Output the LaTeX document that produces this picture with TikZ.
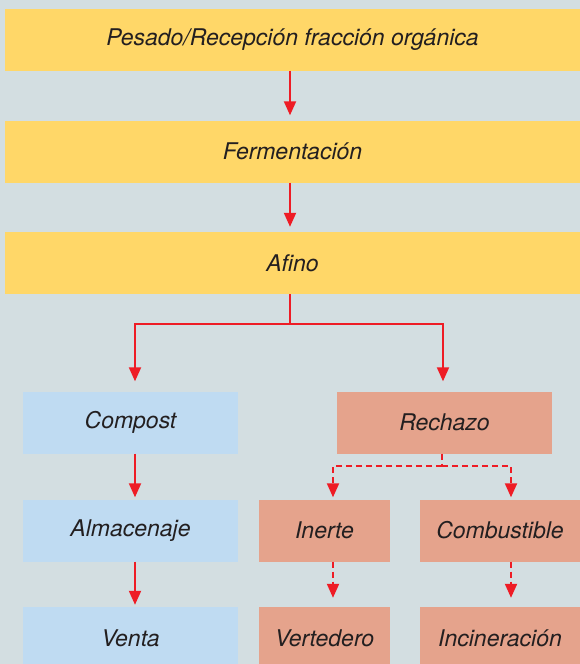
\documentclass[tikz,border=0pt]{standalone}
\usepackage{fontspec}
\setmainfont{TeX Gyre Heros}
\usetikzlibrary{arrows.meta}
\definecolor{fondo}{HTML}{D3DEE1}
\definecolor{amarillo}{HTML}{FFD768}
\definecolor{azul}{HTML}{BFDBF2}
\definecolor{salmon}{HTML}{E5A38C}
\definecolor{rojo}{HTML}{EE1C25}
\definecolor{texto}{HTML}{231F20}
\begin{document}
\begin{tikzpicture}[x=1pt,y=-1pt,
        caja/.style={inner sep=0pt,minimum height=62pt,text=texto,
            font=\fontsize{23}{26}\selectfont\itshape},
        etapa/.style={caja,fill=amarillo,minimum width=575pt},
        producto/.style={caja,fill=azul,minimum width=215pt},
        resto/.style={caja,fill=salmon},
        flecha/.style={rojo,line width=2pt,-{Triangle[length=14pt,width=12pt]}},
        flechad/.style={flecha,dash pattern=on 6pt off 4pt}]
        \fill[fondo] (0,0) rectangle (580,664);
        \clip (0,0) rectangle (580,664);

        \node[etapa] (pesado) at (292.5,39.5){Pesado/Recepción fracción orgánica};
        \node[etapa] (ferm) at (292.5,151.5){Fermentación};
        \node[etapa] (afino) at (292.5,263){Afino};

        \node[producto] (compost) at (130.5,422.5){Compost};
        \node[producto] (almac) at (130.5,530.5){Almacenaje};
        \node[producto] (venta) at (130.5,638){Venta};

        \node[resto,minimum width=215pt] (rechazo) at (444.5,422.5){Rechazo};
        \node[resto,minimum width=131pt] (inerte) at (324.5,530.5){Inerte};
        \node[resto,minimum width=160pt] (comb) at (500,530.5){Combustible};
        \node[resto,minimum width=131pt] (vert) at (324.5,638){Vertedero};
        \node[resto,minimum width=160pt] (incin) at (500,638){Incineración};

        \coordinate (rama) at (290,324);
        \coordinate (ramad) at (442,466);
        \coordinate (xm) at (290,0);
        \coordinate (xp) at (135,0);
        \coordinate (xr) at (443,0);
        \coordinate (xi) at (333,0);
        \coordinate (xc) at (511,0);

        \draw[flecha,shorten >=5pt] (pesado.south -| xm) -- (ferm.north -| xm);
        \draw[flecha,shorten >=5pt] (ferm.south -| xm) -- (afino.north -| xm);
        \draw[rojo,line width=2pt] (afino.south -| xm) -- (rama);
        \draw[flecha,shorten >=10pt] (rama) -| (compost.north -| xp);
        \draw[flecha,shorten >=10pt] (rama) -| (rechazo.north -| xr);
        \draw[flecha,shorten >=2pt] (compost.south -| xp) -- (almac.north -| xp);
        \draw[flecha,shorten >=2pt] (almac.south -| xp) -- (venta.north -| xp);

        \draw[rojo,line width=2pt,dash pattern=on 6pt off 4pt] (rechazo.south -| ramad) -- (ramad);
        \draw[flechad,shorten >=2pt] (ramad) -| (inerte.north -| xi);
        \draw[flechad,shorten >=2pt] (ramad) -| (comb.north -| xc);
        \draw[flechad,shorten >=9pt] (inerte.south -| xi) -- (vert.north -| xi);
        \draw[flechad,shorten >=9pt] (comb.south -| xc) -- (incin.north -| xc);
    \end{tikzpicture}
\end{document}
